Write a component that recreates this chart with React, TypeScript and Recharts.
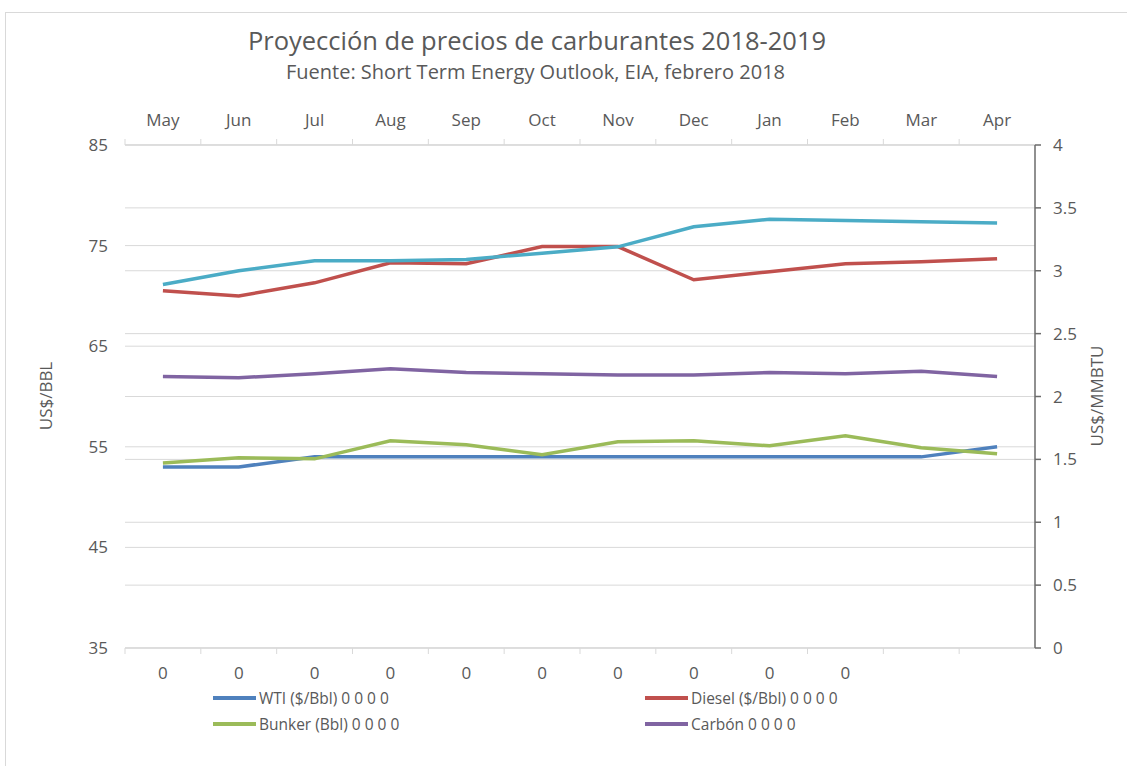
import { LineChart, Line, XAxis, YAxis, CartesianGrid, Legend } from 'recharts'

const months = ['May', 'Jun', 'Jul', 'Aug', 'Sep', 'Oct', 'Nov', 'Dec', 'Jan', 'Feb', 'Mar', 'Apr']
const bottomLabels = ['0', '0', '0', '0', '0', '0', '0', '0', '0', '0', '', '']

// US$/BBL (left axis)
const wti = [53, 53, 54, 54, 54, 54, 54, 54, 54, 54, 54, 55]
const diesel = [70.5, 70.0, 71.3, 73.3, 73.2, 74.9, 74.9, 71.6, 72.4, 73.2, 73.4, 73.7]
const bunker = [53.4, 53.9, 53.8, 55.6, 55.2, 54.2, 55.5, 55.6, 55.1, 56.1, 54.9, 54.3]
// US$/MMBTU (right axis)
const carbon = [2.16, 2.15, 2.18, 2.22, 2.19, 2.18, 2.17, 2.17, 2.19, 2.18, 2.2, 2.16]
const gasolina = [2.89, 3.0, 3.08, 3.08, 3.09, 3.14, 3.19, 3.35, 3.41, 3.4, 3.39, 3.38]

const leftTicks = [35, 45, 55, 65, 75, 85]
const rightTicks = [0, 0.5, 1, 1.5, 2, 2.5, 3, 3.5, 4]

const legendItems = [
  { name: 'WTI ($/Bbl) 0 0 0 0', color: '#4f81bd' },
  { name: 'Diesel ($/Bbl) 0 0 0 0', color: '#c0504d' },
  { name: 'Bunker (Bbl) 0 0 0 0', color: '#9bbb59' },
  { name: 'Carbón 0 0 0 0', color: '#8064a2' },
]

const data = months.map((m, i) => ({
  month: m,
  zero: bottomLabels[i],
  wti: wti[i],
  diesel: diesel[i],
  bunker: bunker[i],
  carbon: carbon[i],
  gasolina: gasolina[i],
}))

const W = 1127
const H = 766
const PLOT_LEFT = 125
const PLOT_RIGHT = 1035
const PLOT_TOP = 145
const PLOT_BOTTOM = 648
const BAND = (PLOT_RIGHT - PLOT_LEFT) / months.length
const TEXT = '#595959'
const GRID = '#d9d9d9'
const FONT = '"Open Sans", sans-serif'

function TopTick(props: any) {
  const { x, payload } = props
  const bx = x - BAND / 2
  return (
    <g>
      <line x1={bx} x2={bx} y1={PLOT_TOP} y2={PLOT_TOP - 6} stroke={GRID} />
      <text x={x} y={120} dy="0.35em" textAnchor="middle" fill={TEXT} fontSize={17}>
        {payload.value}
      </text>
    </g>
  )
}

function BottomTick(props: any) {
  const { x, payload } = props
  const bx = x - BAND / 2
  return (
    <g>
      <line x1={bx} x2={bx} y1={PLOT_BOTTOM} y2={PLOT_BOTTOM + 6} stroke={GRID} />
      <text x={x} y={673} dy="0.35em" textAnchor="middle" fill={TEXT} fontSize={17}>
        {payload.value}
      </text>
    </g>
  )
}

function LegendGrid() {
  const cols = [213, 645]
  return (
    <div style={{ position: 'relative', height: 60 }}>
      {legendItems.map((p, i) => (
        <div
          key={p.name}
          style={{
            position: 'absolute',
            left: cols[i % 2],
            top: Math.floor(i / 2) * 26,
            display: 'flex',
            alignItems: 'center',
            fontSize: 15.5,
            color: TEXT,
            whiteSpace: 'nowrap',
          }}
        >
          <span style={{ display: 'inline-block', width: 43, height: 4, background: p.color, marginRight: 3 }} />
          {p.name}
        </div>
      ))}
    </div>
  )
}

export default function App() {
  return (
    <div style={{ position: 'absolute', left: 0, top: 0, width: W, height: H, background: '#fff', fontFamily: FONT, overflow: 'hidden' }}>
      <div style={{ position: 'absolute', left: 5, top: 12, width: W + 10, height: H + 10, border: `1px solid ${GRID}` }} />
      <div style={{ position: 'absolute', left: 0, top: 23, width: 1074, textAlign: 'center', fontSize: 25.5, color: TEXT }}>
        Proyección de precios de carburantes 2018-2019
      </div>
      <div style={{ position: 'absolute', left: 0, top: 58, width: 1071, textAlign: 'center', fontSize: 20, color: TEXT }}>
        Fuente: Short Term Energy Outlook, EIA, febrero 2018
      </div>
      <div style={{ position: 'absolute', left: 0, top: 0 }}>
        <LineChart width={W} height={H} data={data} margin={{ top: 105, right: 42, bottom: 78, left: 65 }}>
          <CartesianGrid yAxisId="left" xAxisId="top" vertical={false} stroke={GRID} />
          <CartesianGrid yAxisId="right" xAxisId="top" vertical={false} stroke={GRID} />
          <XAxis
            xAxisId="top"
            orientation="top"
            dataKey="month"
            height={40}
            interval={0}
            padding={{ left: BAND / 2, right: BAND / 2 }}
            axisLine={{ stroke: GRID }}
            tickLine={false}
            tick={<TopTick />}
          />
          <XAxis
            xAxisId="bottom"
            orientation="bottom"
            dataKey="zero"
            height={40}
            interval={0}
            padding={{ left: BAND / 2, right: BAND / 2 }}
            axisLine={{ stroke: GRID }}
            tickLine={false}
            tick={<BottomTick />}
          />
          <YAxis
            yAxisId="left"
            orientation="left"
            width={60}
            domain={[35, 85]}
            ticks={leftTicks}
            axisLine={false}
            tickLine={false}
            tickSize={0}
            tickMargin={17}
            tick={{ fill: TEXT, fontSize: 17 }}
            label={() => (
              <text x={46} y={396} transform="rotate(-90 46 396)" textAnchor="middle" dy="0.35em" fill={TEXT} fontSize={17}>
                US$/BBL
              </text>
            )}
          />
          <YAxis
            yAxisId="right"
            orientation="right"
            width={50}
            domain={[0, 4]}
            ticks={rightTicks}
            axisLine={{ stroke: '#6b6b6b', strokeWidth: 1.5 }}
            tickLine={{ stroke: '#6b6b6b', strokeWidth: 1.5 }}
            tickSize={6}
            tickMargin={12}
            tick={{ fill: TEXT, fontSize: 17, textAnchor: 'start' }}
            label={() => (
              <text x={1097} y={396} transform="rotate(-90 1097 396)" textAnchor="middle" dy="0.35em" fill={TEXT} fontSize={17}>
                US$/MMBTU
              </text>
            )}
          />
          <Legend
            verticalAlign="middle"
            align="center"
            layout="horizontal"
            wrapperStyle={{ top: 687, left: 0, width: W }}
            content={<LegendGrid />}
          />
          <Line xAxisId="top" yAxisId="left" dataKey="wti" name="WTI ($/Bbl) 0 0 0 0" stroke="#4f81bd" strokeWidth={3.5} dot={false} isAnimationActive={false} />
          <Line xAxisId="top" yAxisId="left" dataKey="diesel" name="Diesel ($/Bbl) 0 0 0 0" stroke="#c0504d" strokeWidth={3.5} dot={false} isAnimationActive={false} />
          <Line xAxisId="top" yAxisId="left" dataKey="bunker" name="Bunker (Bbl) 0 0 0 0" stroke="#9bbb59" strokeWidth={3.5} dot={false} isAnimationActive={false} />
          <Line xAxisId="top" yAxisId="right" dataKey="carbon" name="Carbón 0 0 0 0" stroke="#8064a2" strokeWidth={3.5} dot={false} isAnimationActive={false} />
          <Line xAxisId="top" yAxisId="right" dataKey="gasolina" name="Gasolina" legendType="none" stroke="#4bacc6" strokeWidth={3.5} dot={false} isAnimationActive={false} />
        </LineChart>
      </div>
    </div>
  )
}
